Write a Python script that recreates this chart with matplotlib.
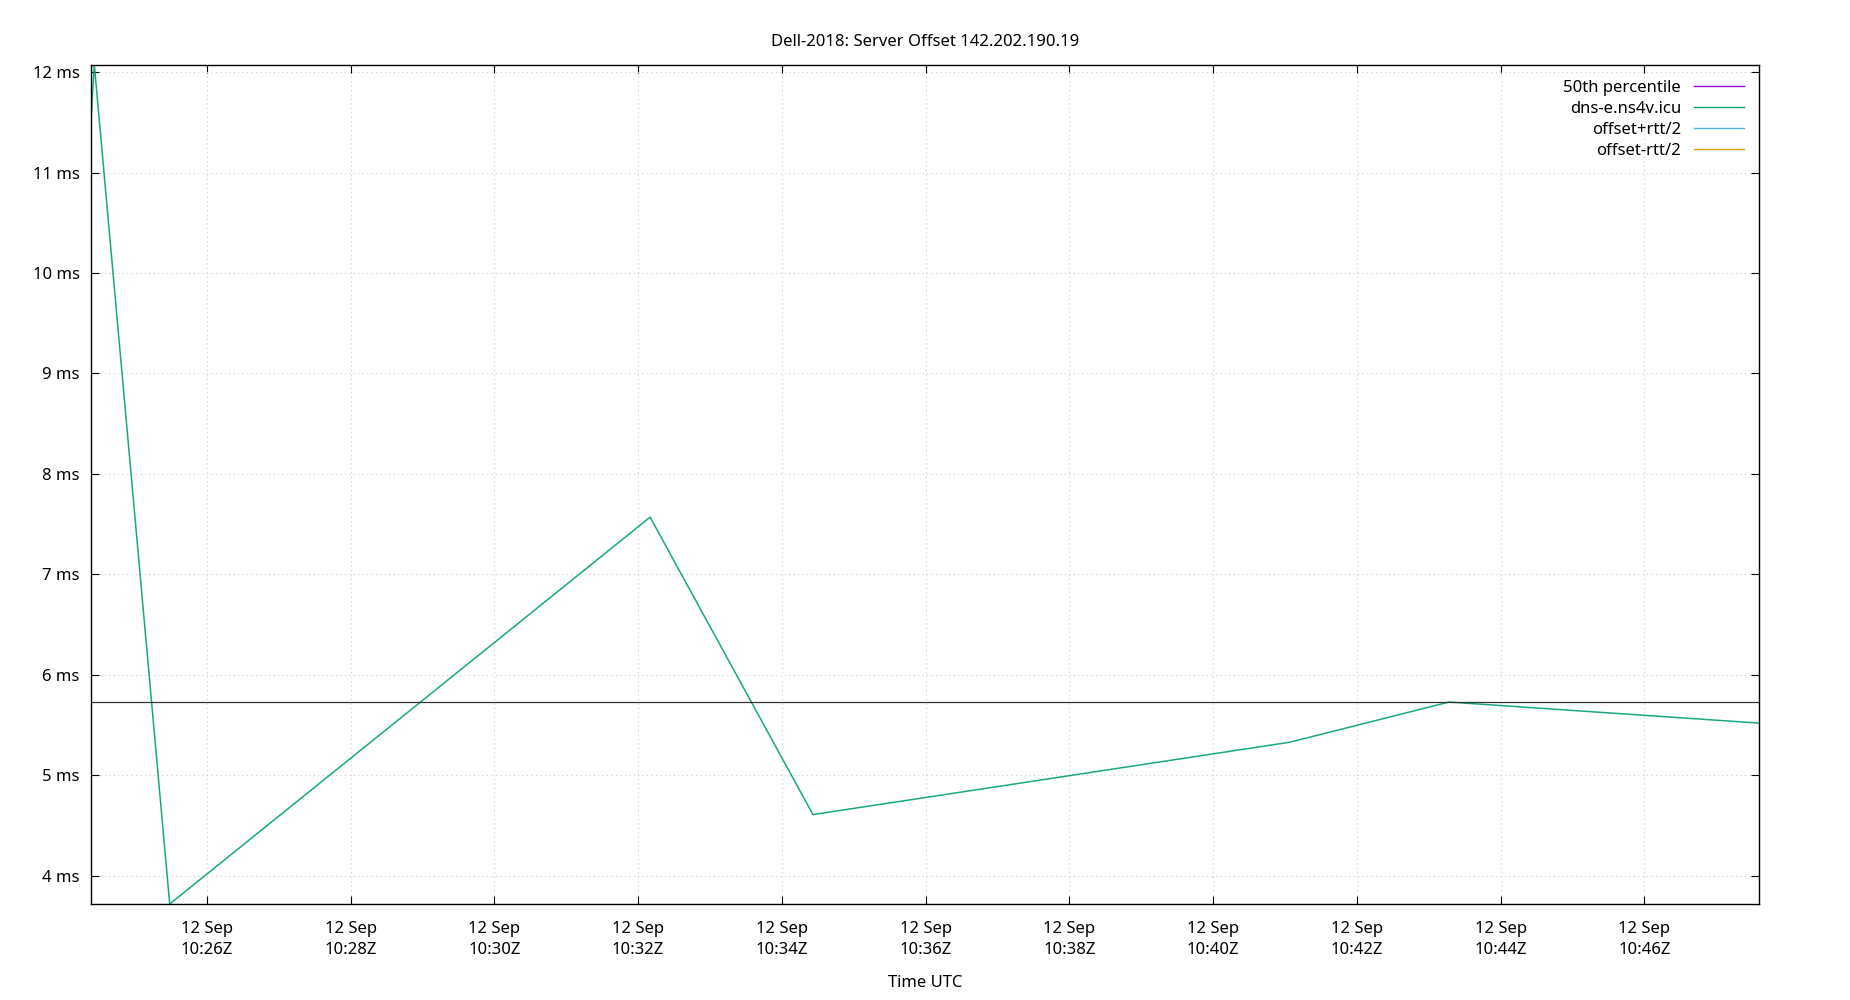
import matplotlib
matplotlib.use("Agg")
import matplotlib.pyplot as plt
from matplotlib.lines import Line2D
import pandas as pd

plt.rcParams['font.family'] = ['Noto Sans', 'DejaVu Sans']

times = ["2018-09-12 10:24:23", "2018-09-12 10:24:26", "2018-09-12 10:25:29",
         "2018-09-12 10:32:10", "2018-09-12 10:34:26", "2018-09-12 10:41:04",
         "2018-09-12 10:43:17", "2018-09-12 10:47:36"]
offset_ms = [11.45, 12.08, 3.72, 7.57, 4.61, 5.33, 5.73, 5.52]
median_ms = 5.73
tick_times = ["2018-09-12 10:%02d" % m for m in range(26, 48, 2)]

t = pd.to_datetime(times)
fig = plt.figure(figsize=(18.5, 10), dpi=100)
ax = fig.add_axes([0.049, 0.096, 0.902, 0.839])
ax.plot(t, offset_ms, color='#009e73', lw=1.1, alpha=0.9)
ax.axhline(median_ms, color='#333333', lw=0.9)
ax.set_xlim(t[0], t[-1])
ax.set_ylim(3.72, 12.07)
ax.set_yticks(range(4, 13))
ax.set_yticklabels([f"{v} ms" for v in range(4, 13)])
tt = pd.to_datetime(tick_times)
ax.set_xticks(tt)
ax.set_xticklabels([f"12 Sep\n{x.strftime('%H:%M')}Z" for x in tt], linespacing=1.45)
ax.grid(True, color='#cccccc', ls=(0, (1, 3)), lw=0.8)
ax.tick_params(direction='in', length=6, labelsize=12, top=True, right=True, pad=8)
ax.tick_params(axis='x', pad=12)
for s in ax.spines.values():
    s.set_linewidth(1)
ax.set_xlabel("Time UTC", fontsize=12, labelpad=12)
ax.set_title("Dell-2018: Server Offset 142.202.190.19", fontsize=12, pad=14)
handles = [Line2D([], [], color=c, lw=1) for c in ['#9400d3', '#009e73', '#56b4e9', '#e69f00']]
labels = ["50th percentile", "dns-e.ns4v.icu", "offset+rtt/2", "offset-rtt/2"]
ax.legend(handles, labels, loc='upper right', frameon=False, fontsize=12,
          markerfirst=False, handlelength=3, labelspacing=0.3)
fig.savefig("out.png")
